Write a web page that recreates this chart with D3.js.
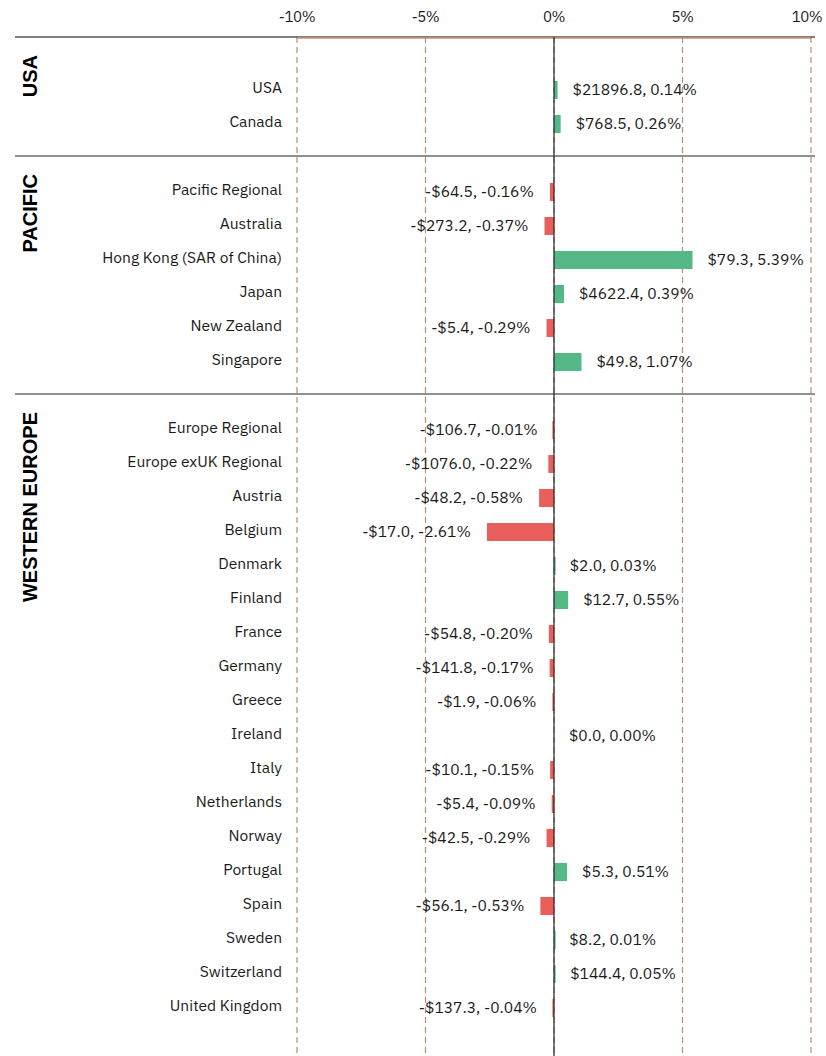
<html>
<head>
<meta charset="utf-8" />
<script src="https://cdn.jsdelivr.net/npm/d3@7"></script>
<style type="text/css">
	body{
		margin: 0;
		background: #fff;
	}
	.lbl{
		font-family: "IBM Plex Sans", "Noto Sans", sans-serif;
		font-size: 15.6px;
		fill: #1a1a1a;
	}
	.tick{
		font-family: "IBM Plex Sans", "Noto Sans", sans-serif;
		font-size: 15px;
		letter-spacing: -0.4px;
		fill: #1a1a1a;
	}
	.grp{
		font-family: "Liberation Sans", Arial, sans-serif;
		font-size: 20px;
		font-weight: bold;
		fill: #000;
	}
</style>
</head>
<body>
<div id="chart"></div>

<script type="text/javascript">
	// groups and the rows in each one
	var groups = ["USA", "PACIFIC", "WESTERN EUROPE"];
	var usaNames = ["USA", "Canada"];
	var usaAmt = [21896.8, 768.5];
	var usaPct = [0.14, 0.26];
	var pacNames = ["Pacific Regional", "Australia", "Hong Kong (SAR of China)", "Japan", "New Zealand", "Singapore"];
	var pacAmt = [-64.5, -273.2, 79.3, 4622.4, -5.4, 49.8];
	var pacPct = [-0.16, -0.37, 5.39, 0.39, -0.29, 1.07];
	var eurNames = ["Europe Regional", "Europe exUK Regional", "Austria", "Belgium", "Denmark", "Finland", "France", "Germany", "Greece", "Ireland", "Italy", "Netherlands", "Norway", "Portugal", "Spain", "Sweden", "Switzerland", "United Kingdom"];
	var eurAmt = [-106.7, -1076.0, -48.2, -17.0, 2.0, 12.7, -54.8, -141.8, -1.9, 0.0, -10.1, -5.4, -42.5, 5.3, -56.1, 8.2, 144.4, -137.3];
	var eurPct = [-0.01, -0.22, -0.58, -2.61, 0.03, 0.55, -0.20, -0.17, -0.06, 0.00, -0.15, -0.09, -0.29, 0.51, -0.53, 0.01, 0.05, -0.04];
	var ticks = [-10, -5, 0, 5, 10];

	var W = 826, H = 1056;
	var green = "#55b887", red = "#e95f5b", grid = "#b88c73";

	// one flat list of slots, with an empty slot before each group
	var slots = [];
	var rows = [];
	var seps = [];
	function addGroup(g, names, amt, pct){
		var key = "gap-" + g;
		slots.push(key);
		seps.push({group: g, key: key});
		for(var i=0; i<names.length; i++){
			var k = g + "|" + names[i];
			slots.push(k);
			rows.push({key: k, name: names[i], amt: amt[i], pct: pct[i]});
		}
	}
	addGroup(groups[0], usaNames, usaAmt, usaPct);
	addGroup(groups[1], pacNames, pacAmt, pacPct);
	addGroup(groups[2], eurNames, eurAmt, eurPct);

	var x = d3.scaleLinear().domain([-10, 10]).range([297, 811]);
	var y = d3.scaleBand().domain(slots).range([39, 39 + slots.length * 34]).paddingInner(0.5).paddingOuter(0.25);
	var mid = function(k){ return y(k) + y.bandwidth() / 2; };

	var svg = d3.select("#chart").append("svg")
		.attr("width", W)
		.attr("height", H);

	// dashed grid
	svg.selectAll(".grid")
		.data(ticks)
		.enter()
		.append("line")
		.attr("x1", function(d){ return x(d); })
		.attr("x2", function(d){ return x(d); })
		.attr("y1", 37)
		.attr("y2", H)
		.attr("stroke", grid)
		.attr("stroke-width", 1.2)
		.attr("stroke-dasharray", "6,4");

	// tick labels
	svg.selectAll(".tick")
		.data(ticks)
		.enter()
		.append("text")
		.attr("class", "tick")
		.attr("x", function(d, i){ return i == ticks.length - 1 ? x(d) - 4 : x(d); })
		.attr("y", 22)
		.attr("text-anchor", "middle")
		.text(function(d){ return d + "%"; });

	// top rule + axis domain
	svg.append("line")
		.attr("x1", 15).attr("x2", 815)
		.attr("y1", 37).attr("y2", 37)
		.attr("stroke", "#000").attr("stroke-width", 1.2);
	svg.append("line")
		.attr("x1", x(-10)).attr("x2", x(10))
		.attr("y1", 38).attr("y2", 38)
		.attr("stroke", "#c9906f").attr("stroke-width", 1.5);

	// group separator lines
	svg.selectAll(".sep")
		.data(seps.slice(1))
		.enter()
		.append("line")
		.attr("x1", 15).attr("x2", 815)
		.attr("y1", function(d){ return mid(d.key) - 2; })
		.attr("y2", function(d){ return mid(d.key) - 2; })
		.attr("stroke", "#222")
		.attr("stroke-width", 1.2);

	// group titles, rotated
	svg.selectAll(".grp")
		.data(seps)
		.enter()
		.append("text")
		.attr("class", "grp")
		.attr("text-anchor", "end")
		.attr("transform", function(d, i){
			var top = i == 0 ? 37 : mid(d.key) - 2;
			return "translate(37," + (top + 18) + ") rotate(-90)";
		})
		.text(function(d){ return d.group; });

	// bars (tiny non-zero values still get a sliver)
	svg.selectAll(".bar")
		.data(rows)
		.enter()
		.append("rect")
		.attr("x", function(d){
			var w = d.pct == 0 ? 0 : Math.max(1.6, Math.abs(x(d.pct) - x(0)));
			return d.pct < 0 ? x(0) - w : x(0);
		})
		.attr("width", function(d){ return d.pct == 0 ? 0 : Math.max(1.6, Math.abs(x(d.pct) - x(0))); })
		.attr("y", function(d){ return y(d.key) - 0.5; })
		.attr("height", y.bandwidth() + 1)
		.attr("fill", function(d){ return d.pct < 0 ? red : green; });

	// zero line
	svg.append("line")
		.attr("x1", x(0)).attr("x2", x(0))
		.attr("y1", 37).attr("y2", H)
		.attr("stroke", "#222")
		.attr("stroke-width", 1.2);

	// row names
	svg.selectAll(".name")
		.data(rows)
		.enter()
		.append("text")
		.attr("class", "lbl")
		.attr("x", 282)
		.attr("y", function(d){ return mid(d.key) + 3; })
		.attr("text-anchor", "end")
		.text(function(d){ return d.name; });

	// value labels
	svg.selectAll(".val")
		.data(rows)
		.enter()
		.append("text")
		.attr("class", "lbl")
		.attr("x", function(d){ return d.pct < 0 ? x(d.pct) - 16 : x(d.pct) + 15; })
		.attr("y", function(d){ return mid(d.key) + 5; })
		.attr("text-anchor", function(d){ return d.pct < 0 ? "end" : "start"; })
		.text(function(d){
			var a = (d.amt < 0 ? "-$" : "$") + Math.abs(d.amt).toFixed(1);
			return a + ", " + d.pct.toFixed(2) + "%";
		});
</script>
</body>
</html>
